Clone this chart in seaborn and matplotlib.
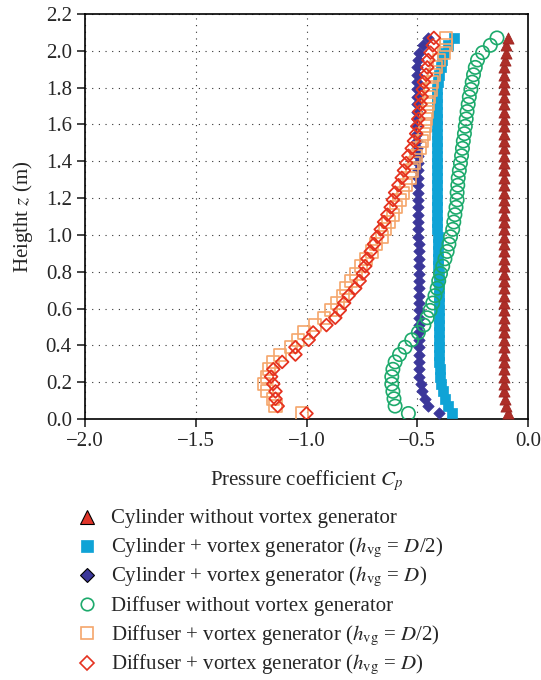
import numpy as np
import pandas as pd
import matplotlib
matplotlib.use('Agg')
import matplotlib.pyplot as plt
from matplotlib.lines import Line2D
import seaborn as sns

# heights (m), shared by every profile
z = [0.03, 0.07, 0.11, 0.15, 0.19, 0.23, 0.27, 0.31, 0.35, 0.39, 0.43, 0.47, 0.51,
     0.55, 0.59, 0.63, 0.67, 0.71, 0.75, 0.79, 0.83, 0.87, 0.91, 0.95, 0.99, 1.03,
     1.07, 1.11, 1.15, 1.19, 1.23, 1.27, 1.31, 1.35, 1.39, 1.43, 1.47, 1.51, 1.55,
     1.59, 1.63, 1.67, 1.71, 1.75, 1.79, 1.83, 1.87, 1.91, 1.95, 1.99, 2.03, 2.07]

cyl_plain = [-0.09, -0.10, -0.105, -0.11, -0.11, -0.11, -0.11, -0.11, -0.11, -0.11, -0.11, -0.11, -0.11,
             -0.11, -0.11, -0.11, -0.11, -0.11, -0.11, -0.11, -0.11, -0.11, -0.11, -0.11, -0.11, -0.11,
             -0.11, -0.11, -0.11, -0.11, -0.11, -0.11, -0.11, -0.11, -0.11, -0.11, -0.11, -0.11, -0.11,
             -0.11, -0.11, -0.11, -0.11, -0.11, -0.11, -0.11, -0.11, -0.11, -0.105, -0.10, -0.10, -0.09]

cyl_vg_half = [-0.345, -0.36, -0.375, -0.385, -0.395, -0.398, -0.398, -0.40, -0.40, -0.40, -0.40, -0.40, -0.40,
               -0.40, -0.40, -0.403, -0.403, -0.403, -0.403, -0.403, -0.405, -0.405, -0.405, -0.405, -0.405, -0.41,
               -0.41, -0.41, -0.41, -0.41, -0.41, -0.41, -0.41, -0.41, -0.41, -0.41, -0.41, -0.41, -0.41,
               -0.41, -0.41, -0.41, -0.41, -0.41, -0.41, -0.405, -0.40, -0.395, -0.39, -0.38, -0.36, -0.335]

cyl_vg_full = [-0.40, -0.45, -0.465, -0.478, -0.485, -0.49, -0.493, -0.493, -0.493, -0.493, -0.493, -0.493, -0.493,
               -0.493, -0.493, -0.493, -0.493, -0.493, -0.493, -0.493, -0.493, -0.493, -0.493, -0.493, -0.495, -0.495,
               -0.495, -0.495, -0.495, -0.495, -0.495, -0.495, -0.495, -0.495, -0.497, -0.498, -0.50, -0.50, -0.50,
               -0.50, -0.50, -0.50, -0.50, -0.50, -0.50, -0.50, -0.50, -0.50, -0.495, -0.49, -0.475, -0.45]

dif_plain = [-0.54, -0.60, -0.605, -0.61, -0.615, -0.615, -0.61, -0.60, -0.58, -0.555, -0.525, -0.495, -0.47,
             -0.455, -0.442, -0.43, -0.42, -0.41, -0.403, -0.395, -0.385, -0.375, -0.365, -0.357, -0.35, -0.34,
             -0.335, -0.33, -0.325, -0.32, -0.32, -0.317, -0.315, -0.31, -0.305, -0.30, -0.296, -0.292, -0.287,
             -0.283, -0.279, -0.275, -0.27, -0.265, -0.258, -0.252, -0.246, -0.238, -0.228, -0.205, -0.17, -0.14]

dif_vg_half = [-1.02, -1.14, -1.15, -1.18, -1.19, -1.18, -1.17, -1.15, -1.12, -1.07, -1.04, -1.01, -0.96,
               -0.92, -0.89, -0.86, -0.835, -0.82, -0.80, -0.775, -0.755, -0.73, -0.705, -0.685, -0.66, -0.645,
               -0.63, -0.61, -0.595, -0.58, -0.565, -0.55, -0.535, -0.525, -0.515, -0.505, -0.49, -0.48, -0.47,
               -0.465, -0.46, -0.455, -0.45, -0.445, -0.44, -0.435, -0.425, -0.415, -0.40, -0.38, -0.37, -0.37]

dif_vg_full = [-1.00, -1.13, -1.14, -1.14, -1.15, -1.16, -1.15, -1.11, -1.05, -1.05, -0.99, -0.97, -0.91,
               -0.87, -0.85, -0.83, -0.81, -0.78, -0.76, -0.745, -0.735, -0.725, -0.71, -0.695, -0.68, -0.665,
               -0.65, -0.635, -0.62, -0.61, -0.60, -0.585, -0.57, -0.56, -0.55, -0.54, -0.525, -0.515, -0.505,
               -0.50, -0.495, -0.49, -0.485, -0.48, -0.475, -0.47, -0.46, -0.455, -0.45, -0.44, -0.43, -0.425]

labels = ['Cylinder without vortex generator',
          r'Cylinder + vortex generator ($h_{\mathrm{vg}}$ = $D$/2)',
          r'Cylinder + vortex generator ($h_{\mathrm{vg}}$ = $D$)',
          'Diffuser without vortex generator',
          r'Diffuser + vortex generator ($h_{\mathrm{vg}}$ = $D$/2)',
          r'Diffuser + vortex generator ($h_{\mathrm{vg}}$ = $D$)']

sns.set_theme(style='white')
plt.rcParams['font.family'] = ['Liberation Serif', 'DejaVu Serif']
plt.rcParams['mathtext.fontset'] = 'stix'
plt.rcParams['font.size'] = 15

W, H = 541, 680
fig = plt.figure(figsize=(W / 100, H / 100), dpi=100)
ax = fig.add_axes([85 / W, 1 - 419 / H, 443 / W, 405 / H])

# (values, marker, face, edge, size, lw)
styles = [
    (cyl_plain, '^', '#AE2E28', '#9E2622', 64, 0.6),
    (cyl_vg_half, 's', '#0FA3D6', '#0FA3D6', 55, 0.5),
    (cyl_vg_full, 'D', '#3B379A', '#3B379A', 34, 0.5),
    (dif_plain, 'o', 'none', '#1DAA6C', 92, 1.2),
    (dif_vg_half, 's', 'none', '#F5A66B', 76, 1.2),
    (dif_vg_full, 'D', 'none', '#E5321F', 42, 1.3),
]

for (vals, mk, fc, ec, s, lw), lab in zip(styles, labels):
    df = pd.DataFrame({'Cp': vals, 'z': z})
    sns.scatterplot(data=df, x='Cp', y='z', marker=mk, s=s, facecolors=fc,
                    edgecolors=ec, linewidths=lw, ax=ax, legend=False, zorder=3)

ax.set_xlim(-2.0, 0.0)
ax.set_ylim(0.0, 2.2)
ax.set_xticks([-2.0, -1.5, -1.0, -0.5, 0.0])
ax.set_xticklabels(['\u22122.0', '\u22121.5', '\u22121.0', '\u22120.5', '0.0'])
ax.set_yticks(np.round(np.arange(0, 2.21, 0.2), 1))
ax.set_yticklabels([f'{v:.1f}' for v in np.arange(0, 2.21, 0.2)])
ax.grid(True, color='#333333', linestyle=(0, (1, 5)), linewidth=0.8)
ax.tick_params(axis='both', direction='out', length=6, width=1.2, labelsize=15,
               bottom=True, left=True, top=False, right=False, pad=3.5)
for sp in ax.spines.values():
    sp.set_color('black')
    sp.set_linewidth(1.2)

ax.set_xlabel(r'Pressure coefficient $C_p$', fontsize=15, labelpad=12)
ax.set_ylabel(r'Heigtht $z$ (m)', fontsize=15, labelpad=8)

# legend rows below the axes, evenly spaced like the original
leg_marks = [
    dict(marker='^', ms=9.5, mfc='#E0352A', mec='black', mew=0.8),
    dict(marker='s', ms=8.5, mfc='#0FA3D6', mec='#0FA3D6', mew=0.5),
    dict(marker='D', ms=7, mfc='#3B379A', mec='black', mew=0.8),
    dict(marker='o', ms=9, mfc='none', mec='#1DAA6C', mew=1.2),
    dict(marker='s', ms=8.5, mfc='none', mec='#F5A66B', mew=1.2),
    dict(marker='D', ms=7, mfc='none', mec='#E5321F', mew=1.2),
]
for i, (lab, mk) in enumerate(zip(labels, leg_marks)):
    base = 523 + i * 29.2
    fig.add_artist(Line2D([87 / W], [1 - (base - 6.5) / H], ls='', transform=fig.transFigure, **mk))
    fig.text(111 / W, 1 - base / H, lab, fontsize=15, va='baseline', ha='left')

fig.savefig('out.png', dpi=100)
